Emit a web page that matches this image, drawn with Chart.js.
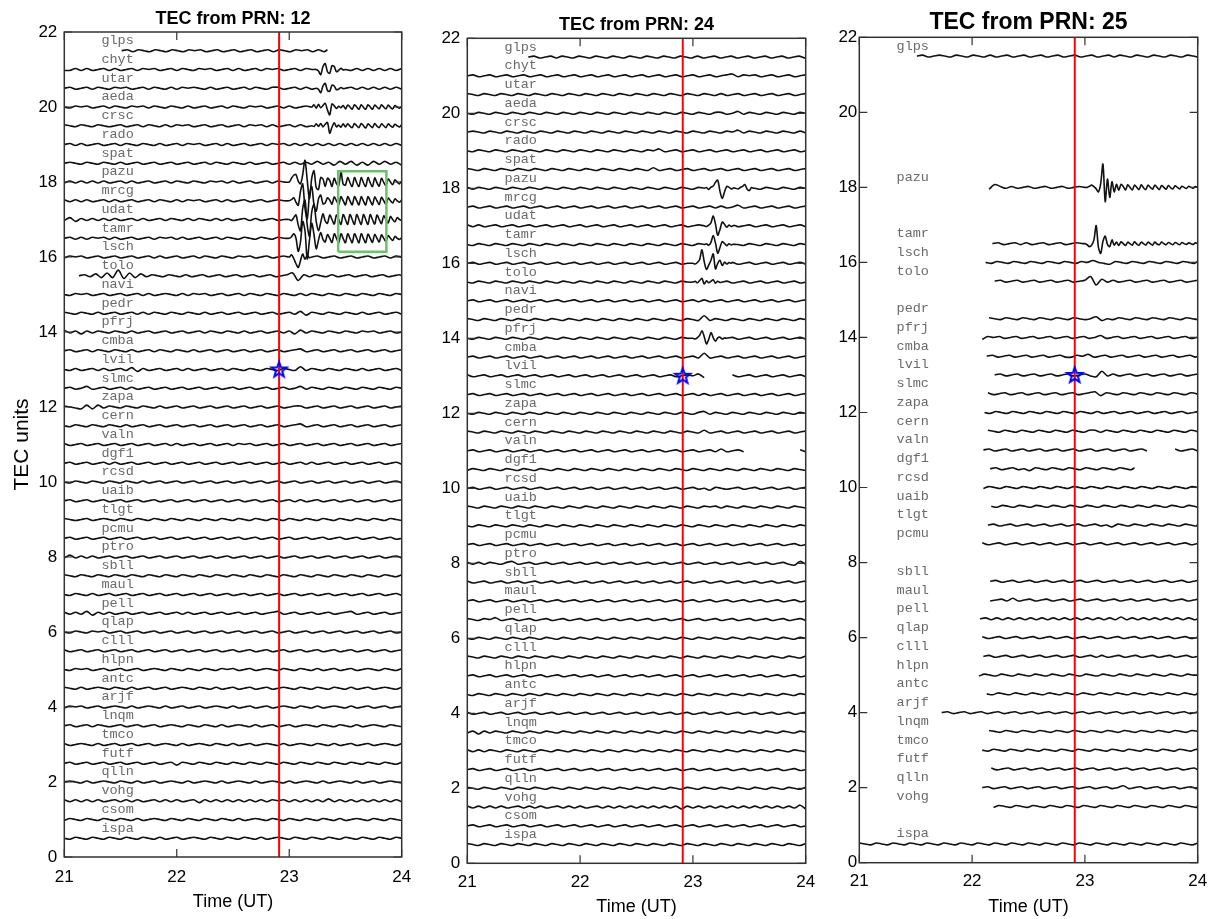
<!DOCTYPE html>
<html>
<head>
<meta charset="utf-8">
<script src="https://cdn.jsdelivr.net/npm/chart.js@4.4.1/dist/chart.umd.min.js"></script>
<style>
  body { margin: 0; background: #fff; overflow: hidden; }
  #wrap { position: relative; width: 1217px; height: 919px; }
  canvas { position: absolute; left: 0; top: 0; }
</style>
</head>
<body>
<div id="wrap">
  <canvas id="prn12" width="1217" height="919"></canvas>
  <canvas id="prn24" width="1217" height="919"></canvas>
  <canvas id="prn25" width="1217" height="919"></canvas>
</div>
<script>
// axes
var timeRange = [21, 24];
var tecRange = [0, 22];
var eventTime = 22.91;          // red line
var starPoint = [22.91, 13];    // blue star
var boxTime = [23.435, 23.864]; // green box, PRN 12
var boxTec = [16.14, 18.29];

// stations and the offset each trace is drawn at (TEC units)
var stations = ['glps','chyt','utar','aeda','crsc','rado','spat','pazu','mrcg','udat','tamr','lsch','tolo','navi',
  'pedr','pfrj','cmba','lvil','slmc','zapa','cern','valn','dgf1','rcsd','uaib','tlgt','pcmu','ptro','sbll','maul',
  'pell','qlap','clll','hlpn','antc','arjf','lnqm','tmco','futf','qlln','vohg','csom','ispa'];
var offsets = [21.5,21,20.5,20,19.5,19,18.5,18,17.5,17,16.5,16,15.5,15,14.5,14,13.5,13,12.5,12,11.5,11,10.5,10,
  9.5,9,8.5,8,7.5,7,6.5,6,5.5,5,4.5,4,3.5,3,2.5,2,1.5,1,0.5];

var WIG_DT = 0.05;     // h between quiet samples
var WIG_UNIT = 0.025;  // TEC units per step in the quiet arrays
var BURST_DT = 0.02;   // h between burst samples
var BURST_UNIT = 0.01; // TEC units per step in the burst arrays

// ---------- PRN 12 ----------
var start12 = [21.51,21,21,21,21,21,21,21,21,21,21,21,21.13,21,21,21,21,21,21,21,21,21,21,21,21,21,21,21,21,21,21,21,21,21,21,21,21,21,21,21,21,21,21];
var end12 = [23.34,24,24,24,24,24,24,24,24,24,24,24,24,24,24,24,24,24,24,24,24,24,24,24,24,24,24,24,24,24,24,24,24,24,24,24,24,24,24,24,24,24,24];
var wig12 = [
  [0,1,-1,1,0,-1,1,0, -1,1,0,-1,1,0,1,-1, 0,1,-1,0,1,-1,0,1, -1,0,1,-1,1,0,-1,1, 0,1,-1,1,-1,1,-1,0], // glps
  [-1,-1,1,-1,1,-1,0,1, -1,1,-1,0,1,-1,1,0, 1,-1,0,1,-1,1,0,-1, 1,0,1,-1,0,1,-1,1, -1,0,1,-1,1,0,1,-1, 0,1,-1,1,0,-1,1,0, 0,-1,1,-1,1,-1,1,-1, 1,-1,1,-1,1,-1,1,0], // chyt
  [0,1,-1,0,1,-1,1,0, -1,1,0,1,-1,0,1,-1, 1,0,-1,1,-1,1,0,1, 0,-1,1,-1,0,1,-1,0, 1,-1,1,0,-1,1,1,-1, 0,1,-1,1,-1,1,0,0, 0,1,-1,1,-1,1,-1,1, -1,1,-1,1,-1,1,-1,0], // utar
  [0,-1,1,0,1,-1,0,1, -1,1,0,-1,1,0,1,-1, 1,0,-1,1,0,-1,1,-1, 0,1,-1,0,1,-1,1,0, -1,1,0,1,-1,0,1,-1, 1,-1,0,1], // aeda
  [1,0,-1,1,0,-1,1,0, -1,0,1,-1,0,1,-1,1, 0,-1,1,-1,1,0,1,-1, 0,1,-1,0,1,-1,0,1, -1,1,0,1,-1,1,-1,0, 1,-1,1,-1], // crsc
  [0,1,-1,1,-1,0,1,-1, 0,1,-1,1,0,-1,1,0, -1,1,-1,0,1,-1,1,0, 1,-1,0,1,-1,1,-1,0, 1,-1,0,1,-1,1,0,1, -1,1,-1,1,-1,1,-1,1, -1,1,-1,1,-1,1,-1,1, -1,1,-1,1,-1,1,-1,0], // rado
  [0,1,0,-1,1,0,-1,1, 0,-1,1,-1,0,1,-1,0, 1,-1,0,1,-1,0,1,-1, 0,1,-1,1,0,-1,1,0, -1,1,-1,0,1,-1,0,1, -1,1,-1,1,-1,2,-1,1, -2,2,-1,2,-2,1,-2,2, -1,2,-1,1,-2,1,-1,0], // spat
  [-1,1,-1,1,-1,1,-1,1, -1,0,1,-1,1,-1,0,1, -1,0,1,-1,1,0,-1,1, 0,-1,1,0,1,-1,1,-1, 0,1,-1,0,1,-1,1,0], // pazu
  [1,-1,1,-1,1,-1,0,1, -1,1,-1,0,1,-1,0,1, -1,1,0,-1,1,-1,1,0, 1,-1,0,1,-1,1,-1,0, 1,-1,0,1,-1,0,1,0], // mrcg
  [-1,2,-2,1,-1,1,-1,1, -1,1,-1,0,1,-1,1,-1, 0,1,-1,1,0,-1,1,-1, 1,0,-1,1,-1,1,-1,0, 1,-1,1,-1,0,1,-1,0], // udat
  [0,1,-1,1,-1,1,0,1, -1,1,-1,0,1,-1,0,1, -1,1,0,1,-1,1,-1,0, 1,-1,0,1,-1,1,0,-1, 1,0,-1,1,0,-1,1,0], // tamr
  [-1,1,0,1,-1,0,1,-1, 0,1,-1,0,1,-1,0,1, -1,1,-1,0,1,-1,0,1, -1,1,0,-1,1,0,-1,1, 0,1,-1,0,1,-1,0,1, 0,0,0,0,0,1,-1,0, 1,-1,0,1,-1,0,1,-1, 0,1,-1,1,0,-1,1,0], // lsch
  [0,1,-1,2,-2,3,-2,6, -3,3,-2,2,-1,1,0,-1, 1,0,-1,1,-1,0,1,-1, 0,1,-1,0,1,-1,0,1, -1,0,1,-1,0,1,3,-5, 1,-1,1,0,-1,1,-1,0, 1,-1,0,1,-1,0,1,-1, 0,1,0,-1,1,0,0,0], // tolo
  [0,-1,1,0,1,-1,0,1, -1,0,1,-1,0,1,-1,1, -1,0,1,0,-1,1,-1,1, 0,1,-1,0,1,-1,0,1, -1,1,0,-1,1,0,-1,1, 0,-1,1,-1,1,0,-1,1, 0,-1,1,0,-1,1,0,-1, 1,0,-1,1,0,-1,1,0], // navi
  [1,0,-1,1,0,-1,1,-1, 0,1,-1,0,1,-1,1,-1, 1,0,-1,1,0,-1,1,0, -1,1,-1,0,1,-1,0,1, -1,0,1,-1,0,1,-1,0, 1,-1,2,-2,1,0,-1,1, 0,-1,1,0,-1,1,-1,0, 1,-1,0,1,-1,0,1,0], // pedr
  [2,-1,1,-2,1,-1,1,0, -1,1,0,-1,1,-1,0,1, -1,0,1,-1,0,1,-1,0, 1,-1,1,0,-1,1,0,-1, 1,-1,0,1,-1,0,1,-1, 1,-2,2,-1,1,0,-1,1, 0,-1,1,0,-1,1,0,1, -1,0,1,-1,0,1,-1,0], // pfrj
  [0,1,-1,0,1,-1,1,0, -1,1,0,-1,1,-1,0,1, -1,1,0,-1,1,0,-1,1, -1,0,1,-1,0,1,-1,0, 1,-1,0,1,-1,0,1,-1, 0,1,2,-1,0,1,-1,0, 1,-1,0,1,-1,0,1,-1, 0,1,-1,0,1,-1,0,0], // cmba
  [0,-1,1,-1,0,1,-1,1, -1,0,1,-1,2,-2,1,-1, 0,1,-1,0,1,-1,1,-1, 0,1,-1,0,1,-1,1,0, -1,1,0,-1,1,0,-1,1, 0,-1,3,-1,1,0,-1,1, 0,-1,1,0,-1,1,-1,0, 1,-1,0,1,-1,0,1,0], // lvil
  [0,1,-1,0,2,-1,0,1, -1,0,1,-1,1,-1,0,1, -1,0,1,-1,0,1,-1,0, 1,-1,0,1,-1,0,1,-1, 0,1,-1,0,1,-1,0,1, -1,0,2,-1,1,0,-1,1, 0,-1,1,0,-1,1,0,-1, 1,0,-1,1,0,-1,1,0], // slmc
  [1,0,-1,-2,2,-2,2,-1, 1,0,-1,1,0,-1,1,0, -1,1,-1,0,1,-1,0,1, -1,0,1,-1,0,1,-1,0, 1,-1,0,1,-1,0,1,-1, 0,1,1,-1,0,1,-1,0, 1,-1,0,1,-1,0,1,-1, 0,1,-1,0,1,-1,0,0], // zapa
  [0,-1,1,0,-1,1,0,-1, 1,0,-1,1,-1,0,1,-1, 0,1,-1,0,1,-1,0,1, -1,0,1,-1,0,1,-1,0, 1,-1,0,1,-1,0,1,-1, 0,1,2,-1,0,1,-1,0, 1,-1,0,1,-1,0,1,-1, 0,1,-1,0,1,-1,0,0], // cern
  [1,-1,0,1,-1,0,1,-1, 0,1,-1,0,1,-1,0,1, -1,0,1,-1,1,-1,0,1, -1,0,1,-1,0,1,-1,1, 0,1,-1,0,1,-1,0,1, -1,0,1,-1,0,1,-1,0, 1,-1,0,1,-1,0,1,-1, 0,1,-1,0,1,-1,0,0], // valn
  [0,1,-1,0,1,-1,0,1, -1,1,-1,0,1,-1,0,1, -1,0,1,-1,0,1,-1,0, 1,-1,0,1,-1,0,1,-1, 0,1,-1,0,1,-1,0,1, -1,0,1,-1,1,-1,0,1, -1,0,1,-1,0,1,-1,0, 1,-1,0,1,-1,0,1,0], // dgf1
  [0,-1,1,0,-1,1,0,-1, 1,0,-1,1,0,-1,1,-1, 0,1,-1,0,1,-1,0,1, -1,0,1,-1,0,1,-1,0, 1,-1,0,1,-1,0,1,-1, 0,1,-1,0,1,-1,0,1, -1,0,1,-1,0,1,-1,0, 1,-1,0,1,-1,0,1,0], // rcsd
  [0,1,-1,0,1,-1,0,1, -1,0,1,-1,0,1,-1,0, 1,-1,0,1,-1,0,1,-1, 0,1,-1,0,1,-1,0,1, -1,0,1,-1,0,1,-1,0, 1,-1,1,-1,0,1,-1,0, 1,-1,0,1,-1,0,1,-1, 0,1,-1,0,1,-1,0,0], // uaib
  [1,0,-1,0,1,-1,0,1, 0,-1,1,0,-1,1,0,-1, 1,0,-1,1,0,-1,1,0, -1,1,0,-1,1,0,-1,1, 0,-1,1,0,-1,1,0,-1, 1,0,-1,1,0,-1,1,0, -1,1,0,-1,1,0,-1,1, 0,-1,1,0,-1,1,0,0], // tlgt
  [0,1,-1,0,1,-1,0,1, -1,0,1,-1,0,1,-1,0, 1,-1,0,1,-1,0,1,-1, 0,1,-1,0,1,-1,0,1, -1,0,1,-1,0,1,-1,0, 1,-1,0,1,-1,0,1,-1, 0,1,-1,0,1,-1,0,1, -1,0,1,-1,0,1,-1,0], // pcmu
  [-1,2,-1,1,-1,1,-1,0, 1,-1,0,1,-1,0,1,-1, 0,1,-1,0,1,-1,0,1, -1,0,1,-1,0,1,-1,0, 1,-1,0,1,-1,0,1,-1, 0,1,-1,0,1,-1,0,1, -1,0,1,-1,0,1,-1,0, 1,-1,0,1,-1,0,1,0], // ptro
  [1,0,-1,1,0,-1,1,0, -1,1,0,-1,1,0,-1,1, 0,-1,1,0,-1,1,0,-1, 1,0,-1,1,0,-1,1,0, -1,1,0,-1,1,0,-1,1, 0,-1,1,0,-1,1,0,-1, 1,0,-1,1,0,-1,1,0, -1,1,0,-1,1,0,-1,0], // sbll
  [0,-1,1,0,-1,1,-1,0, 1,-1,0,1,-1,0,1,-1, 0,1,-1,0,1,-1,0,1, -1,0,1,-1,0,1,-1,0, 1,-1,0,1,-1,0,1,-1, 0,1,-1,0,1,-1,0,1, -1,0,1,-1,0,1,-1,0, 1,-1,0,1,-1,0,1,0], // maul
  [1,-1,1,-1,2,-2,1,-1, 1,-1,0,1,-1,0,1,-1, 0,1,-1,0,1,-1,1,-1, 0,1,-1,0,1,-1,0,1, -1,0,1,-1,0,1,2,-1, 0,1,-1,0,1,-1,0,1, -1,0,1,2,-1,0,1,-1, 0,1,-1,0,1,-1,0,0], // pell
  [0,-1,1,0,-1,1,0,1, -1,0,1,-1,0,1,-1,0, 1,-1,0,1,-1,0,1,-1, 0,1,-1,0,1,-1,0,1, -1,0,1,-1,0,1,-1,0, 1,-1,0,1,-1,0,1,-1, 0,1,-1,0,1,-1,0,1, -1,0,1,-1,0,1,-1,0], // qlap
  [1,-1,0,1,-1,0,1,-1, 0,1,-1,0,1,-1,0,1, -1,0,1,-1,0,1,-1,0, 1,-1,0,1,-1,0,1,-1, 0,1,-1,0,1,-1,0,1, -1,0,1,-1,0,1,-1,0, 1,-1,0,1,-1,0,1,-1, 0,1,-1,0,1,-1,0,0], // clll
  [0,-1,1,0,1,-1,0,1, -1,0,1,-1,0,1,-1,0, 1,0,-1,1,0,-1,1,0, -1,1,0,-1,1,0,1,-1, 0,1,-1,0,1,0,-1,1, 0,-1,1,0,-1,1,-1,0, 1,-1,0,1,-1,0,1,0, -1,1,0,-1,1,0,-1,0], // hlpn
  [1,0,-1,1,-1,0,1,0, -1,1,0,-1,1,-1,0,1, -1,0,1,-1,0,1,0,-1, 1,0,-1,1,-1,0,1,-1, 0,1,-1,0,1,-1,0,1, 0,-1,1,0,-1,1,0,-1, 1,0,-1,1,-1,0,1,-1, 0,1,0,-1,1,0,-1,0], // antc
  [-1,1,0,1,-1,0,1,-1, 0,1,0,-1,1,-1,0,1, 0,-1,1,-1,0,1,-1,0, 1,-1,0,1,0,-1,1,-1, 0,1,-1,0,1,-1,0,1, 0,-1,1,0,-1,1,-1,0, 1,0,-1,1,-1,0,1,-1, 0,1,-1,0,1,0,-1,0], // arjf
  [0,1,-1,0,1,-1,1,0, -1,0,1,-1,0,1,-1,0, 1,-1,0,1,0,-1,1,0, -1,1,0,-1,1,-1,0,1, 0,-1,1,-1,0,1,-1,0, 1,-1,0,1,0,-1,1,0, -1,1,0,-1,1,-1,0,1, 0,-1,1,0,-1,1,0,0], // lnqm
  [1,-1,0,1,0,-1,1,-1, 0,1,-1,0,1,-1,0,1, -1,0,1,0,-1,1,-1,0, 1,0,-1,1,0,-1,1,-1, 0,1,-1,0,1,0,-1,1, -1,0,1,0,-1,1,0,-1, 1,-1,0,1,-1,0,1,-1, 0,1,0,-1,1,-1,0,0], // tmco
  [0,1,-1,0,1,-1,0,1, -1,0,1,-1,0,1,-1,0, 1,-1,0,1,-2,1,0,-1, 1,0,-1,1,0,-1,1,0, -1,1,0,-1,1,0,-1,1, 0,-1,1,0,-1,1,0,-1, 1,0,-1,1,0,-1,1,0, -1,1,0,-1,1,0,-1,0], // futf
  [0,1,0,-1,1,-1,0,1, 0,-1,1,0,-1,1,-1,0, 1,-1,0,1,0,-1,1,-1, 0,1,0,-1,1,-1,0,1, 0,-1,1,-1,0,1,0,-1, 1,-1,0,1,0,-1,1,-1, 0,1,0,-1,1,-1,0,1, -1,0,1,0,-1,1,0,0], // qlln
  [1,-1,1,-1,1,-1,1,-1, 0,1,-1,1,-1,1,-1,0, 1,-1,1,-1,1,-1,0,1, -2,1,-1,1,-1,1,-1,1, -1,1,-1,1,-1,1,0,1, -1,1,-1,1,-1,1,-1,2, -1,1,-1,1,-1,1,-1,1, -1,1,-1,1,-1,1,-1,0], // vohg
  [-1,1,0,-1,1,0,-1,1, 0,-1,1,0,-1,1,-1,0, 1,0,-1,1,0,-1,1,0, -1,1,0,-1,1,0,-1,1, -1,0,1,0,-1,1,0,-1, 1,0,-1,1,0,-1,1,0, -1,1,-1,0,1,0,-1,1, 0,-1,1,0,-1,1,0,0], // csom
  [0,-1,1,0,-1,1,0,-1, 1,0,-1,1,0,-1,1,0, -1,1,-1,0,1,-1,0,1, 0,-1,1,0,-1,1,0,-1, 1,0,-1,1,-1,0,1,0, -1,1,0,-1,1,0,-1,1, 0,-1,1,0,-1,1,0,-1, 1,0,-1,1,0,-1,1,0]  // ispa
];
var burst12Names = ['chyt','utar','aeda','crsc','pazu','mrcg','udat','tamr','lsch'];
var burst12Start = [23.24, 23.24, 23.2, 23.2, 23.0, 23.0, 23.0, 23.0, 23.0];
var burst12Vals = [
  [0,-4,-14,8,16,-6,-10,10,8,-6,-2,3,-1,0],
  [0,-3,-12,6,13,-6,-8,8,6,-4,-2,2,-1,0],
  [0,6,-3,7,-2,4,10,-8,-21,8, 3,-4,2,-2,4,-5,5,0,-6,6, 0,-6,6,-1,-6,6,0,-6,5,0, -5,6,0,-5,5,-1,-5,4,0,-3, 2],
  [0,-2,5,-2,6,-3,4,9,-20,-4, 8,-3,2,-4,5,-3,5,-1,-5,6, 0,-5,6,0,-6,5,0,-5,6,-1, -5,5,0,-5,5,0,-4,4,0,-3, 3],
  [0,10,18,20,2,-5,20,58,5,-45, 10,30,-15,-20,12,8,-12,10,4,-12, 10,-4,-10,27,-6,-8,12,-2,-12,12, -2,-12,12,-2,-12,12,-2,-12,11,-2, -11,10,-1,-10,8,0,-7,6,0,-5, 3],
  [0,3,8,-4,-12,25,45,-20,-48,15, 38,-10,-28,5,15,-8,-6,8,2,-9, 10,0,-10,11,0,-11,11,0,-11,11, 0,-11,11,-1,-11,11,0,-11,10,0, -10,9,0,-9,7,0,-6,5,0,-4, 2],
  [0,-3,5,12,-15,-30,30,52,-15,-45, 20,40,-5,-30,-8,15,-4,-10,12,0, -12,12,0,-13,13,0,-13,13,0,-13, 13,0,-13,13,0,-13,13,0,-12,12, 0,-11,10,0,-9,8,0,-6,5,0, -3],
  [0,4,12,0,-35,-10,45,20,-55,-5, 40,10,-28,-5,15,-3,-10,10,0,-11, 12,0,-12,12,-1,-12,12,0,-12,12, 0,-12,12,-1,-12,11,0,-11,10,0, -10,9,0,-8,7,0,-6,5,0,-3, 2],
  [0,6,-4,-18,-28,-10,8,-6,4,-2,0]
];

// ---------- PRN 24 ----------
var start24 = [21.54,21,21,21,21,21,21,21,21,21,21,21,21,21,21,21,21,21,21,21,21,21,21,21,21,21,21,21,21,21,21,21,21,21,21,21,21,21,21,21,21,21,21];
var end24 = [24,24,24,24,24,24,24,24,24,24,24,24,24,24,24,24,24,24,24,24,24,24,24,24,24,24,24,24,24,24,24,24,24,24,24,24,24,24,24,24,24,24,24];
var wig24 = [
  [0,1,-1,0,1,-1,1,0, -1,1,0,-1,1,0,-1,1, 0,-1,1,0,-1,1,0,-1, 1,0,-1,1,0,-1,1,-1, 0,1,-1,0,1,-1,0,1, -1,0,1,-1,0,1,-1,0, 1,-1,0,0], // glps
  [0,1,-1,0,1,-1,0,1, -1,0,1,-1,0,1,-1,0, 1,-1,0,1,-1,0,1,-1, 0,1,-1,0,1,-1,0,1, -1,0,1,-1,0,1,-1,0, 1,-1,0,1,-1,0,1,2, -1,1,0,1,-1,0,1,-1, 0,1,-1,0,1,-1,0,0], // chyt
  [1,0,-1,1,0,-1,1,0, -1,1,0,-1,1,0,-1,1, 0,-1,1,0,-1,1,0,-1, 1,0,-1,1,0,-1,1,0, -1,1,0,-1,1,0,-1,1, 0,-1,1,0,-1,1,-1,0, 1,-1,0,1,-1,0,1,-1, 0,1,-1,0,1,-1,0,0], // utar
  [0,-1,1,0,-1,1,0,-1, 1,0,-1,1,0,-1,1,0, -1,1,0,-1,1,0,-1,1, 0,-1,1,0,-1,1,0,-1, 1,0,-1,1,0,-1,1,0, -1,1,0,-1,1,1,-1,0, 2,-1,1,0,-1,1,0,-1, 1,0,-1,1,0,-1,1,0], // aeda
  [0,1,0,-1,1,0,-1,1, 0,-1,1,0,-1,1,0,-1, 1,0,-1,1,0,-1,1,0, -1,1,0,-1,1,0,-1,1, 0,-1,1,0,-1,1,0,-1, 1,0,-1,1,0,-1,1,0, 2,-1,1,0,-1,1,0,-1, 1,0,-1,1,-1,1,-2,-1], // crsc
  [0,-1,1,0,-1,1,0,-1, 1,0,-1,1,0,-1,1,0, -1,1,0,-1,1,0,-1,1, 0,-1,1,0,-1,1,0,-1, 1,0,2,-1,0,1,-1,0, 1,-1,0,1,-1,0,1,-1, 0,1,-1,0,1,-1,0,1, -1,0,1,-1,0,1,-1,0], // rado
  [1,0,-1,1,0,-1,1,0, -1,1,0,-1,1,0,-1,1, 0,-1,1,0,-1,1,0,-1, 1,0,-1,1,0,-1,1,0, -1,2,-1,0,1,-1,0,1, -1,0,1,-1,0,1,-1,0, 1,-1,0,1,-1,0,1,-1, 0,1,-1,0,1,-1,1,0], // spat
  [1,-1,1,0,-1,1,0,-1, 1,0,-1,1,0,-1,1,0, -1,1,0,-1,1,0,-1,1, 0,-1,1,0,-1,1,0,-1, 1,0,-1,1,0,-1,1,0, -1,1,0,-1,1,0,-1,1, 0,-1,1,0,-1,1,0,-1, 1,0,-1,1,0,-1,1,0], // pazu
  [0,1,-1,0,1,-1,0,1, -1,0,1,-1,0,1,-1,0, 1,-1,0,1,-1,0,1,-1, 0,1,-1,0,1,-1,0,1, -1,0,1,-1,0,1,-1,0, 1,-1,0,1,-1,1,-1,0, 2,-1,0,1,-1,0,1,-1, 0,1,-1,0,1,-1,0,0], // mrcg
  [1,-1,1,-1,0,1,-1,0, 1,-1,0,1,-1,0,1,-1, 0,1,-1,0,1,-1,0,1, -1,0,1,-1,0,1,-1,0, 1,-1,0,1,-1,0,1,-1, 0,1,-1,0,1,-1,0,1, -1,0,1,-1,0,1,-1,0, 1,-1,0,1,-1,0,1,0], // udat
  [0,-1,1,0,-1,1,0,-1, 1,0,-1,1,0,-1,1,0, -1,1,0,-1,1,0,-1,1, 0,-1,1,0,-1,1,0,-1, 1,0,-1,1,0,-1,1,0, -1,1,0,-1,1,0,-1,1, 0,-1,1,0,-1,1,0,-1, 1,0,-1,1,0,-1,1,0], // tamr
  [0,1,-1,0,1,-1,0,1, -1,0,1,-1,0,1,-1,0, 1,-1,0,1,-1,0,1,-1, 0,1,-1,0,1,-1,0,1, -1,0,1,-1,0,1,-1,0, 0,0,0,0,0,0,0,1, -1,0,1,-1,0,1,-1,0, 1,-1,0,1,-1,0,1,0], // lsch
  [0,-1,1,0,-1,1,0,-1, 1,0,-1,1,0,-1,1,0, -1,1,0,-1,1,0,-1,1, 0,-1,1,0,-1,1,0,-1, 1,0,-1,1,0,-1,1,0, 0,0,0,0,0,0,1,-1, 0,1,-1,0,1,-1,0,1, -1,0,1,-1,0,1,-1,0], // tolo
  [0,1,-1,0,1,-1,0,1, -1,0,1,-1,0,1,-1,0, 1,-1,0,1,-1,0,1,-1, 0,1,-1,0,1,-1,0,1, -1,0,1,-1,0,1,-1,0, 1,-1,1,-1,0,1,-1,0, 1,-1,0,1,-1,0,1,-1, 0,1,-1,0,1,-1,0,0], // navi
  [1,0,-1,1,0,-1,1,0, -1,1,0,-1,1,0,-1,1, 0,-1,1,0,-1,1,0,-1, 1,0,-1,1,0,-1,1,0, -1,1,0,-1,1,0,-1,1, 0,-1,4,-1,1,0,-1,1, 0,-1,1,0,-1,1,0,-1, 1,0,-1,1,0,-1,1,0], // pedr
  [0,-1,1,0,-1,1,0,-1, 1,0,-1,1,0,-1,1,0, -1,1,0,-1,1,0,-1,1, 0,-1,1,0,-1,1,0,-1, 1,0,-1,1,0,-1,1,0, 0,0,0,0,0,0,0,1, -1,0,1,-1,0,1,-1,0, 1,-1,0,1,-1,0,1,0], // pfrj
  [0,1,-1,0,1,-1,0,1, -1,0,1,-1,0,1,-1,0, 1,-1,0,1,-1,0,1,-1, 0,1,-1,0,1,-1,0,1, -1,0,1,-1,0,1,-1,0, 1,-1,4,-1,0,1,-1,0, 1,-1,0,1,-1,0,1,-1, 0,1,-1,0,1,-1,0,0], // cmba
  [1,-1,0,1,-1,0,1,-1, 0,1,-1,0,1,-1,0,1, -1,0,1,-1,0,1,-1,0, 1,-1,0,1,-1,0,1,-1, 0,1,-1,0,1,-1,0,1, 0,2,-2,0,0,0,0,1, -1,0,1,-1,0,1,-1,0, 1,-1,0,1,-1,0,1,0], // lvil
  [0,1,-1,0,1,-1,0,1, -1,0,1,-1,0,1,-1,0, 1,-1,0,1,-1,0,1,-1, 0,1,-1,0,1,-1,0,1, -1,0,1,-1,0,1,-1,0, 1,-1,1,-1,0,1,-1,0, 1,-1,0,1,-1,0,1,-1, 0,1,-1,0,1,-1,0,0], // slmc
  [0,-1,1,0,-1,1,0,-1, 1,0,-1,1,0,-1,1,0, -1,1,0,-1,1,0,-1,1, 0,-1,1,0,-1,1,0,-1, 1,0,-1,1,0,-1,1,0, -1,1,2,-1,1,0,-1,1, 0,-1,1,0,-1,1,0,-1, 1,0,-1,1,0,-1,1,0], // zapa
  [1,0,-1,1,0,-1,1,0, -1,1,0,-1,1,0,-1,1, 0,-1,1,0,-1,1,0,-1, 1,0,-1,1,0,-1,1,0, -1,1,0,-1,1,0,-1,1, 0,-1,2,-1,0,1,-1,0, 1,-1,0,1,-1,0,1,-1, 0,1,-1,0,1,-1,0,0], // cern
  [0,1,-1,0,1,-1,0,1, -1,0,1,-1,0,1,-1,0, 1,-1,0,1,-1,0,1,-1, 0,1,-1,0,1,-1,0,1, -1,0,1,-1,0,1,-1,0, 1,-1,0,1,-1,2,-1,0, 1,-1,0,0,0,0,0,0, 0,0,0,1,-1,0,1,0], // valn
  [-1,1,0,-1,1,0,-1,1, 0,-1,1,0,-1,1,0,-1, 1,0,-1,1,0,-1,1,0, -1,1,0,-1,1,0,-1,1, 0,-1,1,0,-1,1,0,-1, 1,0,-1,1,0,-1,1,0, -1,1,0,-1,1,0,-1,1, 0,-1,1,0,-1,1,0,0], // dgf1
  [0,1,-1,0,1,-1,0,1, -1,0,1,-1,0,1,-1,0, 1,-1,0,1,-1,0,1,-1, 0,1,-1,0,1,-1,0,1, -1,0,1,-1,0,1,-1,0, 1,-1,0,-2,1,0,-1,0, 1,-1,0,1,-1,0,1,-1, 0,1,-1,0,1,-1,0,0], // rcsd
  [1,0,-1,1,0,-1,1,0, -1,1,0,-1,1,0,-1,1, 0,-1,1,0,-1,1,0,-1, 1,0,-1,1,0,-1,1,0, -1,1,0,-1,1,0,-1,1, 0,-1,1,0,1,-1,1,0, -1,1,0,-1,1,0,-1,1, 0,-1,1,0,-1,1,0,0], // uaib
  [0,-1,1,0,-1,1,0,-1, 1,0,-1,1,0,-1,1,0, -1,1,0,-1,1,0,-1,1, 0,-1,1,0,-1,1,0,-1, 1,0,-1,1,0,-1,1,0, -1,1,0,-1,1,0,-1,1, 0,-1,1,0,-1,1,0,-1, 1,0,-1,1,0,-1,1,0], // tlgt
  [0,1,-1,0,1,-1,0,1, -1,0,1,-1,0,1,-1,0, 1,-1,0,1,-1,0,1,-1, 0,1,-1,0,1,-1,0,1, -1,0,1,-1,0,1,-1,0, 1,-1,0,1,-1,0,1,-1, 0,1,-1,0,1,-1,0,1, -1,0,1,-1,0,1,-1,0], // pcmu
  [1,-1,1,-1,1,0,-1,1, 2,-1,0,1,-1,0,1,-1, 0,1,-1,0,1,-1,0,1, -1,0,1,-1,0,1,-1,0, 1,-1,0,1,-1,0,1,-1, 0,1,-1,0,1,-1,0,1, -1,0,1,-1,0,1,-1,0, 1,-1,-2,2,-1,0,1,0], // ptro
  [1,-1,0,1,-1,0,1,-1, 0,1,-1,0,1,-1,0,1, -1,0,1,-1,0,1,-1,0, 1,-1,0,1,-1,0,1,-1, 0,1,-1,0,1,-1,0,1, -1,0,1,-1,0,1,-1,0, 1,-1,0,1,-1,0,1,-1, 0,1,-1,0,1,-1,0,0], // sbll
  [0,1,-1,0,1,-1,0,1, -1,0,1,-1,0,1,-1,0, 1,-1,0,1,-1,0,1,-1, 0,1,-1,0,1,-1,0,1, -1,0,1,-1,0,1,-1,0, 1,-1,0,1,-1,0,1,-1, 0,1,-1,0,1,-1,0,1, -1,0,1,-1,0,1,-1,0], // maul
  [1,0,-1,1,0,2,-1,0, 1,-1,0,1,-1,0,1,-1, 0,1,-1,0,1,-1,0,1, -1,0,1,-1,0,1,-1,0, 1,-1,0,1,-1,0,1,-1, 0,1,-1,0,1,-1,0,1, -1,0,1,-1,0,1,-1,0, 1,-1,0,1,-1,0,1,0], // pell
  [0,-1,1,0,-1,1,0,-1, 1,0,-1,1,0,-1,1,0, -1,1,0,-1,1,0,-1,1, 0,-1,1,0,-1,1,0,-1, 1,0,-1,1,0,-1,1,0, -1,1,0,-1,1,0,-1,1, 0,-1,1,0,-1,1,0,-1, 1,0,-1,1,0,-1,1,0], // qlap
  [1,0,-1,1,0,-1,1,0, -1,1,0,-1,1,0,-1,1, 0,-1,1,0,-1,1,0,-1, 1,0,-1,1,0,-1,1,0, -1,1,0,-1,1,0,-1,1, 0,-1,1,0,-1,1,0,-1, 1,0,-1,1,0,-1,1,0, -1,1,0,-1,1,0,-1,0], // clll
  [0,1,-1,0,1,-1,0,1, -1,0,1,-1,0,1,-1,0, 1,-1,0,1,-1,0,1,-1, 0,1,-1,0,1,-1,0,1, -1,0,1,-1,0,1,-1,0, 1,-1,0,1,-1,0,1,-1, 0,1,-1,0,1,-1,0,1, -1,0,1,-1,0,1,-1,0], // hlpn
  [0,-1,1,0,-1,1,0,-1, 1,0,-1,1,0,-1,1,0, -1,1,0,-1,1,0,-1,1, 0,-1,1,0,-1,1,0,-1, 1,0,-1,1,0,-1,1,0, -1,1,0,-1,1,0,-1,1, 0,-1,1,0,-1,1,0,-1, 1,0,-1,1,0,-1,1,0], // antc
  [1,-1,0,1,-1,0,1,-1, 0,1,-1,0,1,-1,0,1, -1,0,1,-1,0,1,-1,0, 1,-1,0,1,-1,0,1,-1, 0,1,-1,0,1,-1,0,1, -1,0,1,-1,0,1,-1,0, 1,-1,0,1,-1,0,1,-1, 0,1,-1,0,1,-1,0,0], // arjf
  [-1,1,-2,1,-1,1,0,-1, 1,0,-1,1,0,-1,1,0, -1,1,0,-1,1,0,-1,1, 0,-1,1,0,-1,1,0,-1, 1,0,-1,1,0,-1,1,0, -1,1,0,-1,1,0,-1,1, 0,-1,1,0,-1,1,0,-1, 1,0,-1,1,0,-1,1,0], // lnqm
  [1,-1,1,-1,1,0,-1,1, 0,-1,1,0,-1,1,0,-1, 1,0,-1,1,0,-1,1,0, -1,1,0,-1,1,0,-1,1, 0,-1,1,0,-1,1,0,-1, 1,0,-1,1,0,-1,1,0, -1,1,0,-1,1,0,-1,1, 0,-1,1,0,-1,1,0,0], // tmco
  [0,1,-1,0,1,-1,0,1, -1,0,1,-1,0,1,-1,0, 1,-1,0,1,-1,0,1,-1, 0,1,-1,0,1,-1,0,1, -1,0,1,-1,0,1,-1,0, 1,-1,0,1,-1,0,1,-1, 0,1,-1,0,1,-1,0,1, -1,0,1,-1,0,1,-1,0], // futf
  [1,0,-1,1,0,-1,1,0, -1,1,0,-1,1,0,-1,1, 0,-1,1,0,-1,1,0,-1, 1,0,-1,1,0,-1,1,0, -1,1,0,-1,1,0,-1,1, 0,-1,1,0,-1,1,0,-1, 1,0,-1,1,0,-1,1,0, -1,1,0,-1,1,0,-1,0], // qlln
  [1,-1,1,-1,1,-1,1,-1, 0,1,-1,1,-1,1,-1,0, 1,-1,1,-1,1,-1,0,1, -1,1,-1,1,-1,1,-1,1, -1,1,-1,1,-1,1,-2,1, -1,1,-1,1,-1,1,-1,1, -1,1,-1,1,-1,1,-1,1, -1,1,-1,2,-2,1,-1,0], // vohg
  [0,1,-1,0,1,-1,0,1, -1,0,1,-1,0,1,-1,0, 1,-1,0,1,-1,0,1,-1, 0,1,-1,0,1,-1,0,1, -1,0,1,-1,0,1,-1,0, 1,-1,0,1,-1,0,1,-1, 0,1,-1,0,1,-1,0,1, -1,0,1,-1,0,1,-1,0], // csom
  [1,0,-1,1,0,-1,1,0, -1,1,0,-1,1,0,-1,1, 0,-1,1,0,-1,1,0,-1, 1,0,-1,1,0,-1,1,0, -1,1,0,-1,1,0,-1,1, 0,-1,1,0,-1,1,0,-1, 1,0,-1,1,0,-1,1,0, -1,1,0,-1,1,0,-1,0]  // ispa
];
var burst24Names = ['pazu','udat','tamr','lsch','tolo','pfrj'];
var burst24Start = [23.1, 23.1, 23.1, 23.0, 23.0, 23.0];
var burst24Vals = [
  [0,2,-3,3,6,16,22,-8,-27,-10,5,3,-2,1,0,-2,2,5,10,-2,-6,2,0],
  [0,-2,2,8,26,5,-25,-10,10,4,-4,2,-2,1,0],
  [0,2,-2,6,24,4,-23,-8,8,3,-3,2,-1,1,0],
  [0,-2,2,10,36,5,-16,-5,8,25,-15,0,8,-6,3,-2,2,0],
  [0,2,-2,4,10,-5,3,-2,2,6,-3,2,-1,0],
  [0,-2,2,8,20,5,-15,-3,15,2,-8,1,3,-2,1,0]
];
var gap24Names = ['lvil','valn'];
var gap24From = [23.12, 23.47];
var gap24To = [23.34, 23.92];

// ---------- PRN 25 ----------
var names25 = ['glps','pazu','tamr','lsch','tolo','pedr','pfrj','cmba','lvil','slmc','zapa','cern','valn','dgf1','rcsd',
  'uaib','tlgt','pcmu','sbll','maul','pell','qlap','clll','hlpn','antc','arjf','lnqm','tmco','futf','qlln','vohg','ispa'];
var start25 = [21.51,22.15,22.18,22.12,22.20,22.15,22.09,22.13,22.20,22.14,22.11,22.14,22.10,22.16,22.10,
  22.17,22.14,22.09,22.16,22.16,22.07,22.09,22.10,22.06,22.13,21.73,22.15,22.09,22.17,22.09,22.19,21.00];
var end25 = [24,24,24,24,24,24,24,24,24,24,24,24,24,23.44,24,24,24,24,24,24,24,24,24,24,24,24,24,24,24,24,24,24];
var wig25 = [
  [0,1,-1,0,1,0,-1,1, 0,-1,1,0,-1,1,-1,0, 1,-1,0,1,-1,0,1,-1, 0,1,-1,0,1,-1,0,1, -1,0,1,-1,1,0,-1,1, 0,-1,1,0,-1,1,0,-1, 1,0,-1,0], // glps
  [-2,3,1,-1,1,-1,0,1, -1,0,1,-1,0,1,-1,0, 1,0,0,0], // pazu
  [0,1,-1,0,1,-1,1,-1, 0,1,-1,0,1,-1,0,1, 0,0,0,0], // tamr
  [0,-1,1,0,-1,1,0,-1, 1,0,-1,1,0,-1,1,0, -1,1,0,2,0,-1,-2,1, 0,-1,1,0,-1,1,0,-1, 1,0,-1,1,0,-1,1,0], // lsch
  [0,1,-1,0,1,-1,0,1, -1,0,1,-1,0,1,-1,0, 1,5,-4,2,-1,1,-1,0, 1,-1,0,1,-1,0,1,-1, 0,1,-1,0,1,-1,0,0], // tolo
  [1,0,-1,1,0,-1,1,0, -1,1,0,-1,1,0,-1,1, 0,-1,0,2,-2,0,-1,1, 0,-1,1,0,-1,1,0,-1, 1,0,-1,1,0,-1,1,0], // pedr
  [-2,1,0,1,-1,0,1,-1, 0,1,-1,0,1,-1,0,1, -1,0,1,-1,0,2,-1,0, 1,-1,0,1,-1,0,1,-1, 0,1,-1,0,1,-1,0,0], // pfrj
  [0,1,-1,0,1,-1,0,1, -1,0,1,-1,0,1,-1,-1, 1,0,2,-1,0,1,-1,0, 1,-1,0,1,-1,0,1,-1, 0,1,-1,0,1,-1,0,0], // cmba
  [0,1,-1,0,1,-1,0,1, -1,0,1,-1,0,1,-1,0, 1,-1,-2,4,-1,1,-1,0, 1,-1,0,1,-1,0,1,-1, 0,1,-1,0,1,-1,0,0], // lvil
  [1,-1,0,1,-1,0,1,-1, 0,1,-1,0,1,-1,0,1, -1,0,1,2,-2,1,0,-1, 1,0,-1,1,0,-1,1,0, -1,1,0,-1,1,0,-1,0], // slmc
  [0,-1,1,0,-1,1,0,-1, 1,0,-1,1,0,-1,1,0, -1,1,0,-1,1,-1,0,1, -1,0,1,-1,0,1,-1,0, 1,-1,0,1,-1,0,1,0], // zapa
  [1,0,-1,1,0,-1,1,0, -1,1,0,-1,1,0,-1,1, 0,-1,1,1,-1,1,0,-1, 1,0,-1,1,0,-1,1,0, -1,1,0,-1,1,0,-1,0], // cern
  [0,1,-1,0,1,-1,0,1, -1,0,1,-1,0,1,-1,0, 1,-1,0,1,-1,0,1,-1, 0,1,-1,0,1,-1,0,0, 0,0,1,-1,0,1,-1,0], // valn
  [0,1,-1,0,1,-1,0,-2, 1,0,-1,1,0,-1,1,0, -1,1,0,-1,1,0,-1,1, 0,-1,1,0,-1,0], // dgf1
  [-1,1,0,-1,1,0,-1,1, 0,-1,1,0,-1,1,0,-1, 1,0,-1,1,0,-1,1,0, -1,1,0,-1,1,0,-1,1, 0,-1,1,0,-1,1,0,0], // rcsd
  [0,-1,1,0,-1,1,0,-1, 1,0,-1,1,0,-1,1,0, -1,1,0,-1,1,0,-1,1, 0,-1,1,0,-1,1,0,-1, 1,0,-1,1,0,-1,1,0], // uaib
  [0,1,-1,0,1,-1,0,1, -1,0,1,-1,0,1,-1,0, 1,-1,0,1,-1,0,-2,1, 0,-1,1,0,-1,1,0,-1, 1,0,-1,1,0,-1,1,0], // tlgt
  [1,-1,0,1,-1,0,1,-1, 0,1,-1,0,1,-1,0,1, -1,0,1,-1,0,1,-1,0, 1,-1,0,1,-1,0,1,-1, 0,1,-1,0,1,-1,0,0], // pcmu
  [0,1,-1,0,1,-1,0,1, -1,0,1,-1,0,1,-1,0, 1,-1,0,1,-1,0,1,-1, 0,1,-1,0,1,-1,0,1, -1,0,1,-1,0,1,-1,0], // sbll
  [-1,0,1,-1,2,-1,0,1, -1,0,1,-1,0,1,-1,0, 1,-1,0,1,-1,0,1,-1, 0,1,-1,0,1,-1,0,1, -1,0,1,-1,0,1,-1,0], // maul
  [0,1,-1,1,-1,1,-1,1, -1,1,-1,1,-1,1,-1,1, -1,1,-1,1,-1,1,-1,1, -1,2,-1,1,-1,1,-1,1, -1,1,-1,1,-1,1,-1,0], // pell
  [1,-1,0,1,-1,0,1,-1, 0,1,-1,0,1,-1,0,1, -1,0,1,-1,0,1,-1,0, 1,-1,0,1,-1,0,1,-1, 0,1,-1,0,1,-1,0,0], // qlap
  [0,1,-1,0,1,-1,0,1, -1,0,1,-1,0,1,-1,0, 1,-1,0,1,-1,1,-1,0, 1,-1,0,1,-1,0,1,-1, 0,1,-1,0,1,-1,0,0], // clll
  [-1,1,0,-1,1,0,-1,1, 0,-1,1,0,-1,1,0,-1, 1,0,-1,1,0,-1,1,0, -1,1,0,-1,1,0,-1,1, 0,-1,1,0,-1,1,0,0], // hlpn
  [0,-1,1,0,-1,1,0,-1, 1,0,-1,1,0,-1,1,0, -1,1,0,-1,1,0,-1,1, 0,-1,1,0,-1,1,0,-1, 1,0,-1,1,0,-1,1,0], // antc
  [0,1,-1,0,1,-1,0,1, -1,0,1,-1,0,1,-1,0, 1,-1,0,1,-1,0,1,-1, 0,1,-1,0,1,-1,0,1, -1,0,1,-1,0,1,-1,0, 1,-1,0,1,-1,0,1,0], // arjf
  [1,0,-1,1,0,-1,1,0, -1,1,0,-1,1,0,-1,1, 0,-1,1,0,-1,1,0,-1, 1,0,-1,1,0,-1,1,0, -1,1,0,-1,1,0,-1,0], // lnqm
  [0,-1,1,0,-1,1,0,-1, 1,0,-1,1,0,-1,1,0, -1,1,0,-1,1,0,-1,1, 0,-1,1,0,-1,1,0,-1, 1,0,-1,1,0,-1,1,0], // tmco
  [1,-1,0,1,-1,0,1,-1, 0,1,-1,0,1,-1,0,1, -1,0,1,-1,0,1,-1,0, 1,-1,0,1,-1,0,1,-1, 0,1,-1,0,1,-1,0,0], // futf
  [0,1,-1,0,1,-1,0,1, -1,0,1,-1,0,1,-1,0, 1,-1,0,1,-1,0,1,-1, 0,2,-1,0,1,-1,0,1, -1,0,1,-1,0,1,-1,0], // qlln
  [-1,1,0,-1,1,0,-1,1, 0,-1,1,0,-1,1,0,-1, 1,0,-1,1,0,-1,1,0, -1,1,0,-1,1,0,-1,1, 0,-1,1,0,-1,1,-1,0], // vohg
  [1,0,-1,1,0,-1,1,0, -1,1,0,-1,1,0,-1,1, 0,-1,1,0,-1,1,0,-1, 1,0,-1,1,0,-1,1,0, -1,1,0,-1,1,0,-1,1, 0,-1,1,0,-1,1,0,-1, 1,0,-1,1,0,-1,1,0, -1,1,0,-1,1,0,-1,0]  // ispa
];
var burst25Names = ['pazu','tamr'];
var burst25Start = [23.02, 23.0];
var burst25Vals = [
  [0,3,6,2,-4,-12,10,62,-38,22, -27,15,-12,8,-8,8,2,-7,7,0, -7,6,0,-6,7,-1,-6,6,0,-5, 6,0,-6,5,0,-5,5,-1,-4,4, 0,-4,3,0,-3,3,0,-2,2,0],
  [0,-3,-8,-4,10,48,-10,-26,6,20, -2,-8,10,-4,4,-5,5,0,-5,4, 0,-4,5,-1,-4,4,0,-4,4,0, -4,4,-1,-3,4,0,-3,3,0,-3, 3,0,-3,3,0,-2,2,0,-2,2, 0]
];
var gap25Names = ['valn'];
var gap25From = [23.56];
var gap25To = [23.77];

// label placement
var labelTime = 21.33;
var labelLift = 0.27;

Chart.defaults.font.family = '"Liberation Sans", Arial, sans-serif';
Chart.defaults.color = '#000';

function buildTraces(names, start, end, wig, bNames, bStart, bVals, gNames, gFrom, gTo) {
  var sets = [];
  for (var i = 0; i < names.length; i++) {
    var name = names[i];
    var y0 = offsets[stations.indexOf(name)];
    var b = bNames.indexOf(name);
    var bs = b >= 0 ? bStart[b] : 99;
    var be = b >= 0 ? bStart[b] + (bVals[b].length - 1) * BURST_DT : -99;
    var pts = [];
    for (var k = 0; k < wig[i].length; k++) {
      var t = Math.min(start[i] + k * WIG_DT, end[i]);
      if (t < bs - 1e-6 || t > be + 1e-6) pts.push({x: t, y: y0 + wig[i][k] * WIG_UNIT});
      if (t >= end[i]) break;
    }
    if (b >= 0) {
      bVals[b].forEach(function (v, j) { pts.push({x: bs + j * BURST_DT, y: y0 + v * BURST_UNIT}); });
    }
    var g = gNames.indexOf(name);
    if (g >= 0) {
      pts = pts.filter(function (p) { return p.x <= gFrom[g] || p.x >= gTo[g]; });
      pts.push({x: (gFrom[g] + gTo[g]) / 2, y: null});
    }
    pts.sort(function (p, q) { return p.x - q.x; });
    sets.push({
      data: pts, borderColor: '#111', borderWidth: 1.6, pointRadius: 0,
      tension: 0.3, spanGaps: false, order: 3
    });
  }
  return sets;
}

function starImage() {
  var c = document.createElement('canvas');
  c.width = 22; c.height = 22;
  var g = c.getContext('2d');
  g.strokeStyle = '#0000ff'; g.lineWidth = 2; g.lineJoin = 'miter';
  g.beginPath();
  for (var i = 0; i < 10; i++) {
    var r = i % 2 ? 3.3 : 8;
    var a = -Math.PI / 2 + i * Math.PI / 5;
    g.lineTo(11 + r * Math.cos(a), 11.5 + r * Math.sin(a));
  }
  g.closePath(); g.stroke();
  return c;
}

var framePlugin = {
  id: 'frame',
  beforeDatasetsDraw: function (chart, args, opts) {
    var ctx = chart.ctx, x = chart.scales.x, y = chart.scales.y;
    ctx.save();
    ctx.font = '13.5px "Liberation Mono", "Courier New", monospace';
    ctx.fillStyle = '#6a6a6a';
    ctx.textBaseline = 'middle';
    ctx.textAlign = 'left';
    opts.names.forEach(function (n) {
      ctx.fillText(n, x.getPixelForValue(labelTime), y.getPixelForValue(offsets[stations.indexOf(n)] + labelLift));
    });
    ctx.restore();
  },
  afterDatasetsDraw: function (chart) {
    var ctx = chart.ctx, a = chart.chartArea, x = chart.scales.x, y = chart.scales.y;
    ctx.save();
    ctx.strokeStyle = '#333';
    ctx.lineWidth = 1.5;
    ctx.strokeRect(a.left, a.top, a.right - a.left, a.bottom - a.top);
    ctx.lineWidth = 1.2;
    ctx.beginPath();
    x.ticks.forEach(function (t) {
      var p = x.getPixelForValue(t.value);
      ctx.moveTo(p, a.bottom); ctx.lineTo(p, a.bottom - 8);
      ctx.moveTo(p, a.top); ctx.lineTo(p, a.top + 8);
    });
    y.ticks.forEach(function (t) {
      var p = y.getPixelForValue(t.value);
      ctx.moveTo(a.left, p); ctx.lineTo(a.left + 8, p);
      ctx.moveTo(a.right, p); ctx.lineTo(a.right - 8, p);
    });
    ctx.stroke();
    ctx.restore();
  }
};

function makeChart(id, p) {
  var sets = p.traces.slice();
  if (p.box) {
    sets.push({
      data: [{x: boxTime[0], y: boxTec[0]}, {x: boxTime[1], y: boxTec[0]}, {x: boxTime[1], y: boxTec[1]},
             {x: boxTime[0], y: boxTec[1]}, {x: boxTime[0], y: boxTec[0]}],
      borderColor: '#6cc26c', borderWidth: 2.5, pointRadius: 0, tension: 0, order: 2
    });
  }
  sets.push({
    data: [{x: eventTime, y: tecRange[0]}, {x: eventTime, y: tecRange[1]}],
    borderColor: '#ff0000', borderWidth: 2, pointRadius: 0, tension: 0, order: 1
  });
  sets.push({
    data: [{x: starPoint[0], y: starPoint[1]}],
    showLine: false, pointStyle: starImage(), pointRadius: 8, order: 0
  });
  var lh = p.titleSize * 0.6;
  new Chart(document.getElementById(id), {
    type: 'line',
    data: { datasets: sets },
    options: {
      responsive: false,
      animation: false,
      events: [],
      layout: { padding: { left: p.area[0] - p.yWidth, right: 1217 - p.area[2], top: 0, bottom: 0 } },
      plugins: {
        legend: { display: false },
        tooltip: { enabled: false },
        title: {
          display: true, text: p.title, fullSize: false, color: '#000',
          font: { size: p.titleSize, weight: 'bold' },
          padding: { top: p.titleY - lh, bottom: p.area[1] - p.titleY - lh }
        },
        frame: { names: p.names }
      },
      scales: {
        x: {
          type: 'linear', min: timeRange[0], max: timeRange[1],
          grid: { display: false, drawTicks: false }, border: { display: false },
          ticks: { stepSize: 1, padding: p.xPad, font: { size: 17 } },
          title: { display: true, text: 'Time (UT)', font: { size: 18 }, padding: { top: 0, bottom: 919 - p.xTitleY - 10.8 } },
          afterFit: function (s) { s.height = 919 - p.area[3]; }
        },
        y: {
          min: tecRange[0], max: tecRange[1],
          grid: { display: false, drawTicks: false }, border: { display: false },
          ticks: { stepSize: 2, padding: p.yPad, font: { size: 17 } },
          title: p.yTitle ? { display: true, text: p.yTitle, font: { size: 21 }, padding: { top: 9.4, bottom: 0 } } : { display: false },
          afterFit: function (s) { s.width = p.yWidth; }
        }
      }
    },
    plugins: [framePlugin]
  });
}

makeChart('prn12', {
  title: 'TEC from PRN: 12', titleSize: 18, titleY: 19,
  area: [64.3, 32, 401.7, 857], yWidth: 64.3, yPad: 7, xPad: 10, xTitleY: 902,
  yTitle: 'TEC units', box: true, names: stations,
  traces: buildTraces(stations, start12, end12, wig12, burst12Names, burst12Start, burst12Vals, [], [], [])
});
makeChart('prn24', {
  title: 'TEC from PRN: 24', titleSize: 18, titleY: 25,
  area: [467.3, 38.3, 805.7, 863.3], yWidth: 40, yPad: 7, xPad: 8.5, xTitleY: 907,
  yTitle: null, box: false, names: stations,
  traces: buildTraces(stations, start24, end24, wig24, burst24Names, burst24Start, burst24Vals, gap24Names, gap24From, gap24To)
});
makeChart('prn25', {
  title: 'TEC from PRN: 25', titleSize: 23, titleY: 22.3,
  area: [859.3, 37.3, 1197.7, 862.7], yWidth: 40, yPad: 2, xPad: 8.5, xTitleY: 907,
  yTitle: null, box: false, names: names25,
  traces: buildTraces(names25, start25, end25, wig25, burst25Names, burst25Start, burst25Vals, gap25Names, gap25From, gap25To)
});
</script>
</body>
</html>
